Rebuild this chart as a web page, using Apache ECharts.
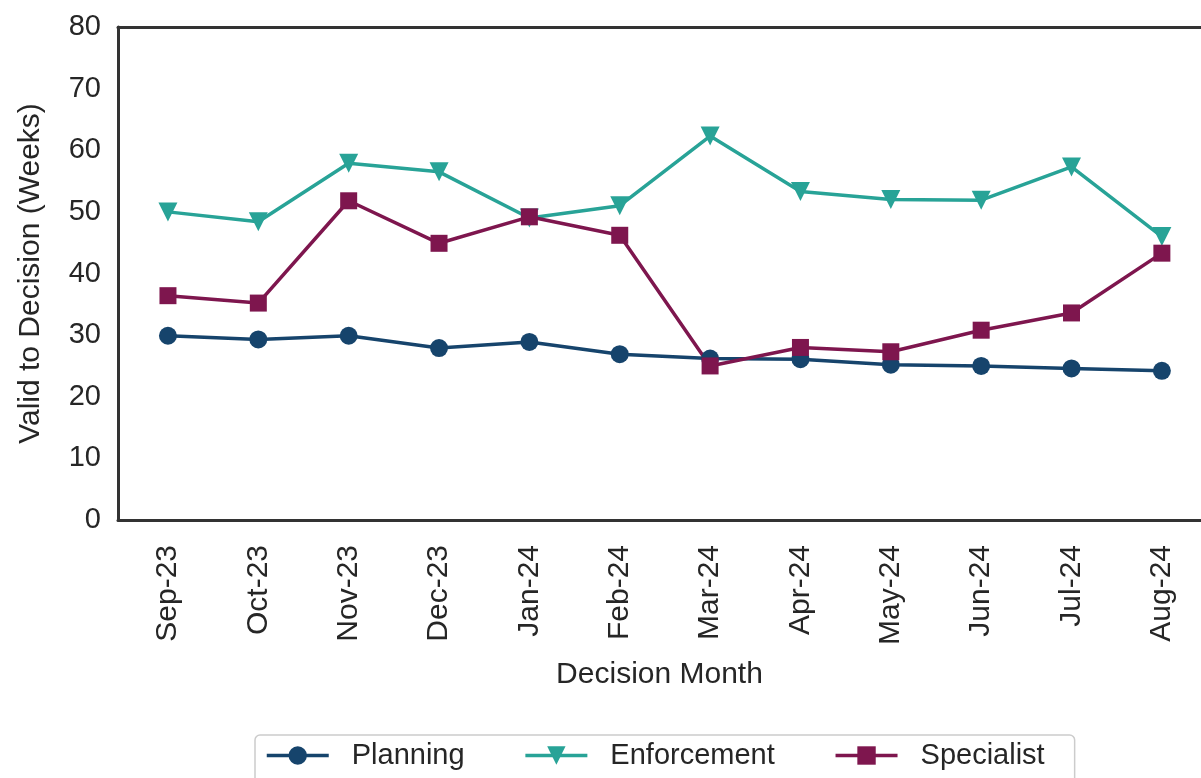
<!DOCTYPE html>
<html>
<head>
<meta charset="utf-8">
<script src="https://cdn.jsdelivr.net/npm/echarts@6/dist/echarts.min.js"></script>
<style>
    html, body { margin: 0; padding: 0; background: #fff; }
    #chart { width: 1201px; height: 778px; }
</style>
</head>
<body>
<div id="chart"></div>
<script>
// months along the x axis
var months = ['Sep-23', 'Oct-23', 'Nov-23', 'Dec-23', 'Jan-24', 'Feb-24',
              'Mar-24', 'Apr-24', 'May-24', 'Jun-24', 'Jul-24', 'Aug-24'];

// weeks from valid to decision
var planning    = [29.9, 29.3, 29.9, 27.9, 28.9, 26.9, 26.2, 26.1, 25.2, 25.0, 24.6, 24.2];
var enforcement = [50.0, 48.4, 57.9, 56.5, 49.0, 51.0, 62.3, 53.3, 52.0, 51.9, 57.3, 46.0];
var specialist  = [36.4, 35.2, 51.8, 44.9, 49.2, 46.2, 25.0, 28.0, 27.3, 30.8, 33.6, 43.3];

var yTicks = [0, 10, 20, 30, 40, 50, 60, 70, 80];

var font = "'Liberation Sans', Arial, sans-serif";
var textColor = '#262626';
var spine = { color: '#333333', width: 3 };

// x range: a bit of room left of Sep-23, box cut off right after Aug-24
var xMin = -0.553;
var xMax = 11.433;

function pairs(arr) {
    return arr.map(function (v, i) { return [i, v]; });
}

var chart = echarts.init(document.getElementById('chart'));

var option = {
    animation: false,
    backgroundColor: '#ffffff',
    grid: {
        left: 118, top: 27, right: 0, bottom: 258
    },
    xAxis: [
        {
            type: 'value',
            min: xMin,
            max: xMax,
            name: 'Decision Month',
            nameLocation: 'middle',
            nameGap: 140,
            nameTextStyle: { fontFamily: font, fontSize: 30, color: textColor },
            axisLine: { show: true, onZero: false, lineStyle: spine },
            axisTick: { show: false },
            splitLine: { show: false },
            axisLabel: {
                customValues: months.map(function (m, i) { return i; }),
                formatter: function (v) { return months[v]; },
                rotate: 90,
                margin: 25,
                fontFamily: font,
                fontSize: 30,
                color: textColor
            }
        },
        {
            // top spine only
            type: 'value',
            position: 'top',
            min: xMin,
            max: xMax,
            axisLine: { show: true, onZero: false, lineStyle: spine },
            axisTick: { show: false },
            axisLabel: { show: false },
            splitLine: { show: false }
        }
    ],
    yAxis: {
        type: 'value',
        min: yTicks[0],
        max: yTicks[yTicks.length - 1],
        interval: 10,
        name: 'Valid to Decision (Weeks)',
        nameLocation: 'middle',
        nameGap: 72,
        nameTextStyle: { fontFamily: font, fontSize: 30, color: textColor },
        axisLine: { show: true, onZero: false, lineStyle: spine },
        axisTick: { show: false },
        splitLine: { show: false },
        axisLabel: {
            margin: 17,
            fontFamily: font,
            fontSize: 29,
            color: textColor
        }
    },
    legend: {
        left: 255,
        top: 735,
        padding: [6, 30, 30, 10],
        borderColor: '#cccccc',
        borderWidth: 1.5,
        borderRadius: 5,
        itemWidth: 62,
        itemHeight: 23,
        itemGap: 59,
        lineStyle: { width: 3.5 },
        textStyle: {
            fontFamily: font,
            fontSize: 29,
            color: textColor,
            padding: [0, 0, 0, 18]
        },
        data: ['Planning', 'Enforcement', 'Specialist']
    },
    series: [
        {
            name: 'Planning',
            type: 'line',
            data: pairs(planning),
            color: '#16446c',
            symbol: 'circle',
            symbolSize: 18,
            lineStyle: { width: 3.5 }
        },
        {
            name: 'Enforcement',
            type: 'line',
            data: pairs(enforcement),
            color: '#28a397',
            symbol: 'triangle',
            symbolRotate: 180,
            symbolSize: 19,
            lineStyle: { width: 3.5 }
        },
        {
            name: 'Specialist',
            type: 'line',
            data: pairs(specialist),
            color: '#7e164e',
            symbol: 'rect',
            symbolSize: 17,
            lineStyle: { width: 3.5 }
        }
    ]
};

option && chart.setOption(option);
</script>
</body>
</html>
